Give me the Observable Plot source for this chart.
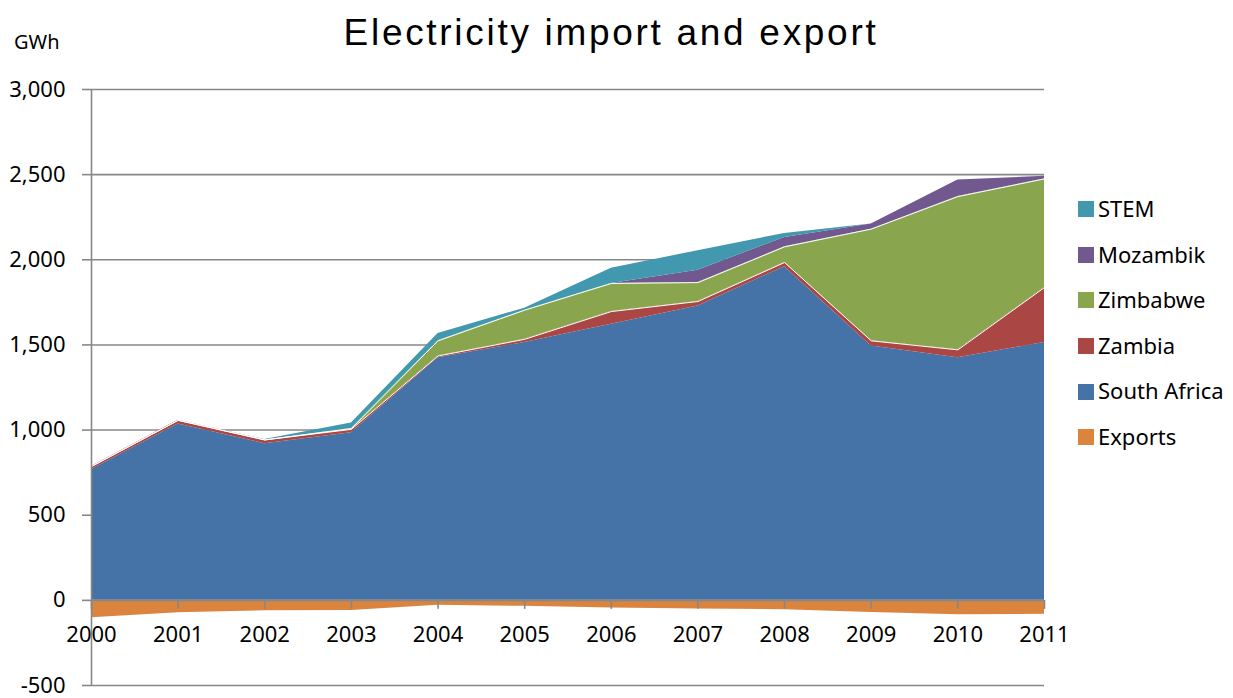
<!DOCTYPE html>
<html><head><meta charset="utf-8">
<script src="https://cdn.jsdelivr.net/npm/d3@7"></script>
<script src="https://cdn.jsdelivr.net/npm/@observablehq/plot@0.6"></script>
<style>
body{margin:0;background:#fff;}
#wrap{position:relative;width:1233px;height:698px;font-family:"Noto Sans",sans-serif;color:#000;}
#chart{position:absolute;left:0;top:0;}
#title{position:absolute;left:0;width:1222px;text-align:center;top:12px;font-family:"Liberation Sans",sans-serif;font-size:37px;letter-spacing:2.7px;white-space:nowrap;}
#unit{position:absolute;left:14px;top:28px;font-size:20px;}
#legend{position:absolute;left:1078px;top:0;}
.item{position:absolute;left:0;white-space:nowrap;font-size:22px;line-height:22px;}
.sw{display:inline-block;width:16px;height:16px;vertical-align:middle;margin-right:4px;position:relative;top:-2px;}
</style></head>
<body>
<div id="wrap">
  <div id="chart"></div>
  <div id="title">Electricity import and export</div>
  <div id="unit">GWh</div>
  <div id="legend"></div>
</div>
<script>
const years = [2000,2001,2002,2003,2004,2005,2006,2007,2008,2009,2010,2011];
const southAfrica = [768,1035,920,984,1425,1514,1622,1729,1959,1494,1425,1514];
const zambia      = [18,22,22,20,10,19,74,26,25,30,46,323];
const zimbabwe    = [0,0,0,5,89,171,165,111,92,656,900,638];
const mozambik    = [0,0,0,0,0,0,0,73,55,30,98,15];
const stem        = [0,0,2,32,43,12,90,114,24,0,0,0];
const exportsGWh  = [-102,-73,-61,-59,-29,-35,-45,-51,-55,-71,-84,-82];
const yTicks = [-500,0,500,1000,1500,2000,2500,3000];

const seriesNames = ["Exports","South Africa","Zambia","Zimbabwe","Mozambik","STEM"];
const seriesColors = ["#DB843D","#4572A7","#AA4643","#89A54E","#71588F","#4198AF"];
const seriesValues = [exportsGWh, southAfrica, zambia, zimbabwe, mozambik, stem];
const legendOrder = ["STEM","Mozambik","Zimbabwe","Zambia","South Africa","Exports"];

const tidy = [];
seriesNames.forEach((s,i)=>years.forEach((y,j)=>tidy.push({series:s,year:y,value:seriesValues[i][j]})));

// white separator lines on top of Zambia and Zimbabwe layers
const sepLines = [];
years.forEach((y,j)=>{
  const zTop = southAfrica[j]+zambia[j];
  sepLines.push({k:"za",year:y,v:zTop});
  sepLines.push({k:"zi",year:y,v:zTop+zimbabwe[j]});
});

const W=1233,H=698,mL=91,mR=189,mT=89,mB=13;
const yDomain=[-500,3000];
const pxPerUnit=(H-mT-mB)/(yDomain[1]-yDomain[0]);
const axisShift=(0-yDomain[0])*pxPerUnit;
const gray="#878787";

const chart = Plot.plot({
  width:W,height:H,marginLeft:mL,marginRight:mR,marginTop:mT,marginBottom:mB,
  x:{domain:[years[0],years[years.length-1]],label:null},
  y:{domain:yDomain,label:null},
  color:{domain:seriesNames,range:seriesColors},
  style:{fontFamily:"'Noto Sans',sans-serif",fontSize:"22px",color:"#000",background:"transparent",overflow:"visible"},
  marks:[
    Plot.ruleY(yTicks.filter(d=>d!==0),{stroke:gray,strokeWidth:1.6}),
    Plot.areaY(tidy,{x:"year",y:"value",z:"series",fill:"series",order:seriesNames}),
    Plot.lineY(sepLines,{x:"year",y:"v",z:"k",stroke:"white",strokeWidth:1}),
    Plot.ruleY([0],{stroke:gray,strokeWidth:1.6}),
    Plot.ruleX([years[0]],{stroke:gray,strokeWidth:1.6}),
    Plot.axisY({ticks:yTicks,label:null,tickFormat:d=>d3.format(",")(d).replace("−","-"),tickSize:9,tickPadding:17,stroke:gray,strokeWidth:1.6,fill:"#000"}),
    Plot.axisX({ticks:years,label:null,tickFormat:"d",tickSize:9,tickPadding:17,stroke:gray,strokeWidth:1.6,fill:"#000",dy:-axisShift})
  ]
});
document.getElementById("chart").appendChild(chart);

const leg=document.getElementById("legend");
legendOrder.forEach((s,i)=>{
  const d=document.createElement("div");
  d.className="item";
  d.style.top=(197+i*45.6)+"px";
  const c=seriesColors[seriesNames.indexOf(s)];
  d.innerHTML=`<span class="sw" style="background:${c}"></span>${s}`;
  leg.appendChild(d);
});
</script>
</body></html>
